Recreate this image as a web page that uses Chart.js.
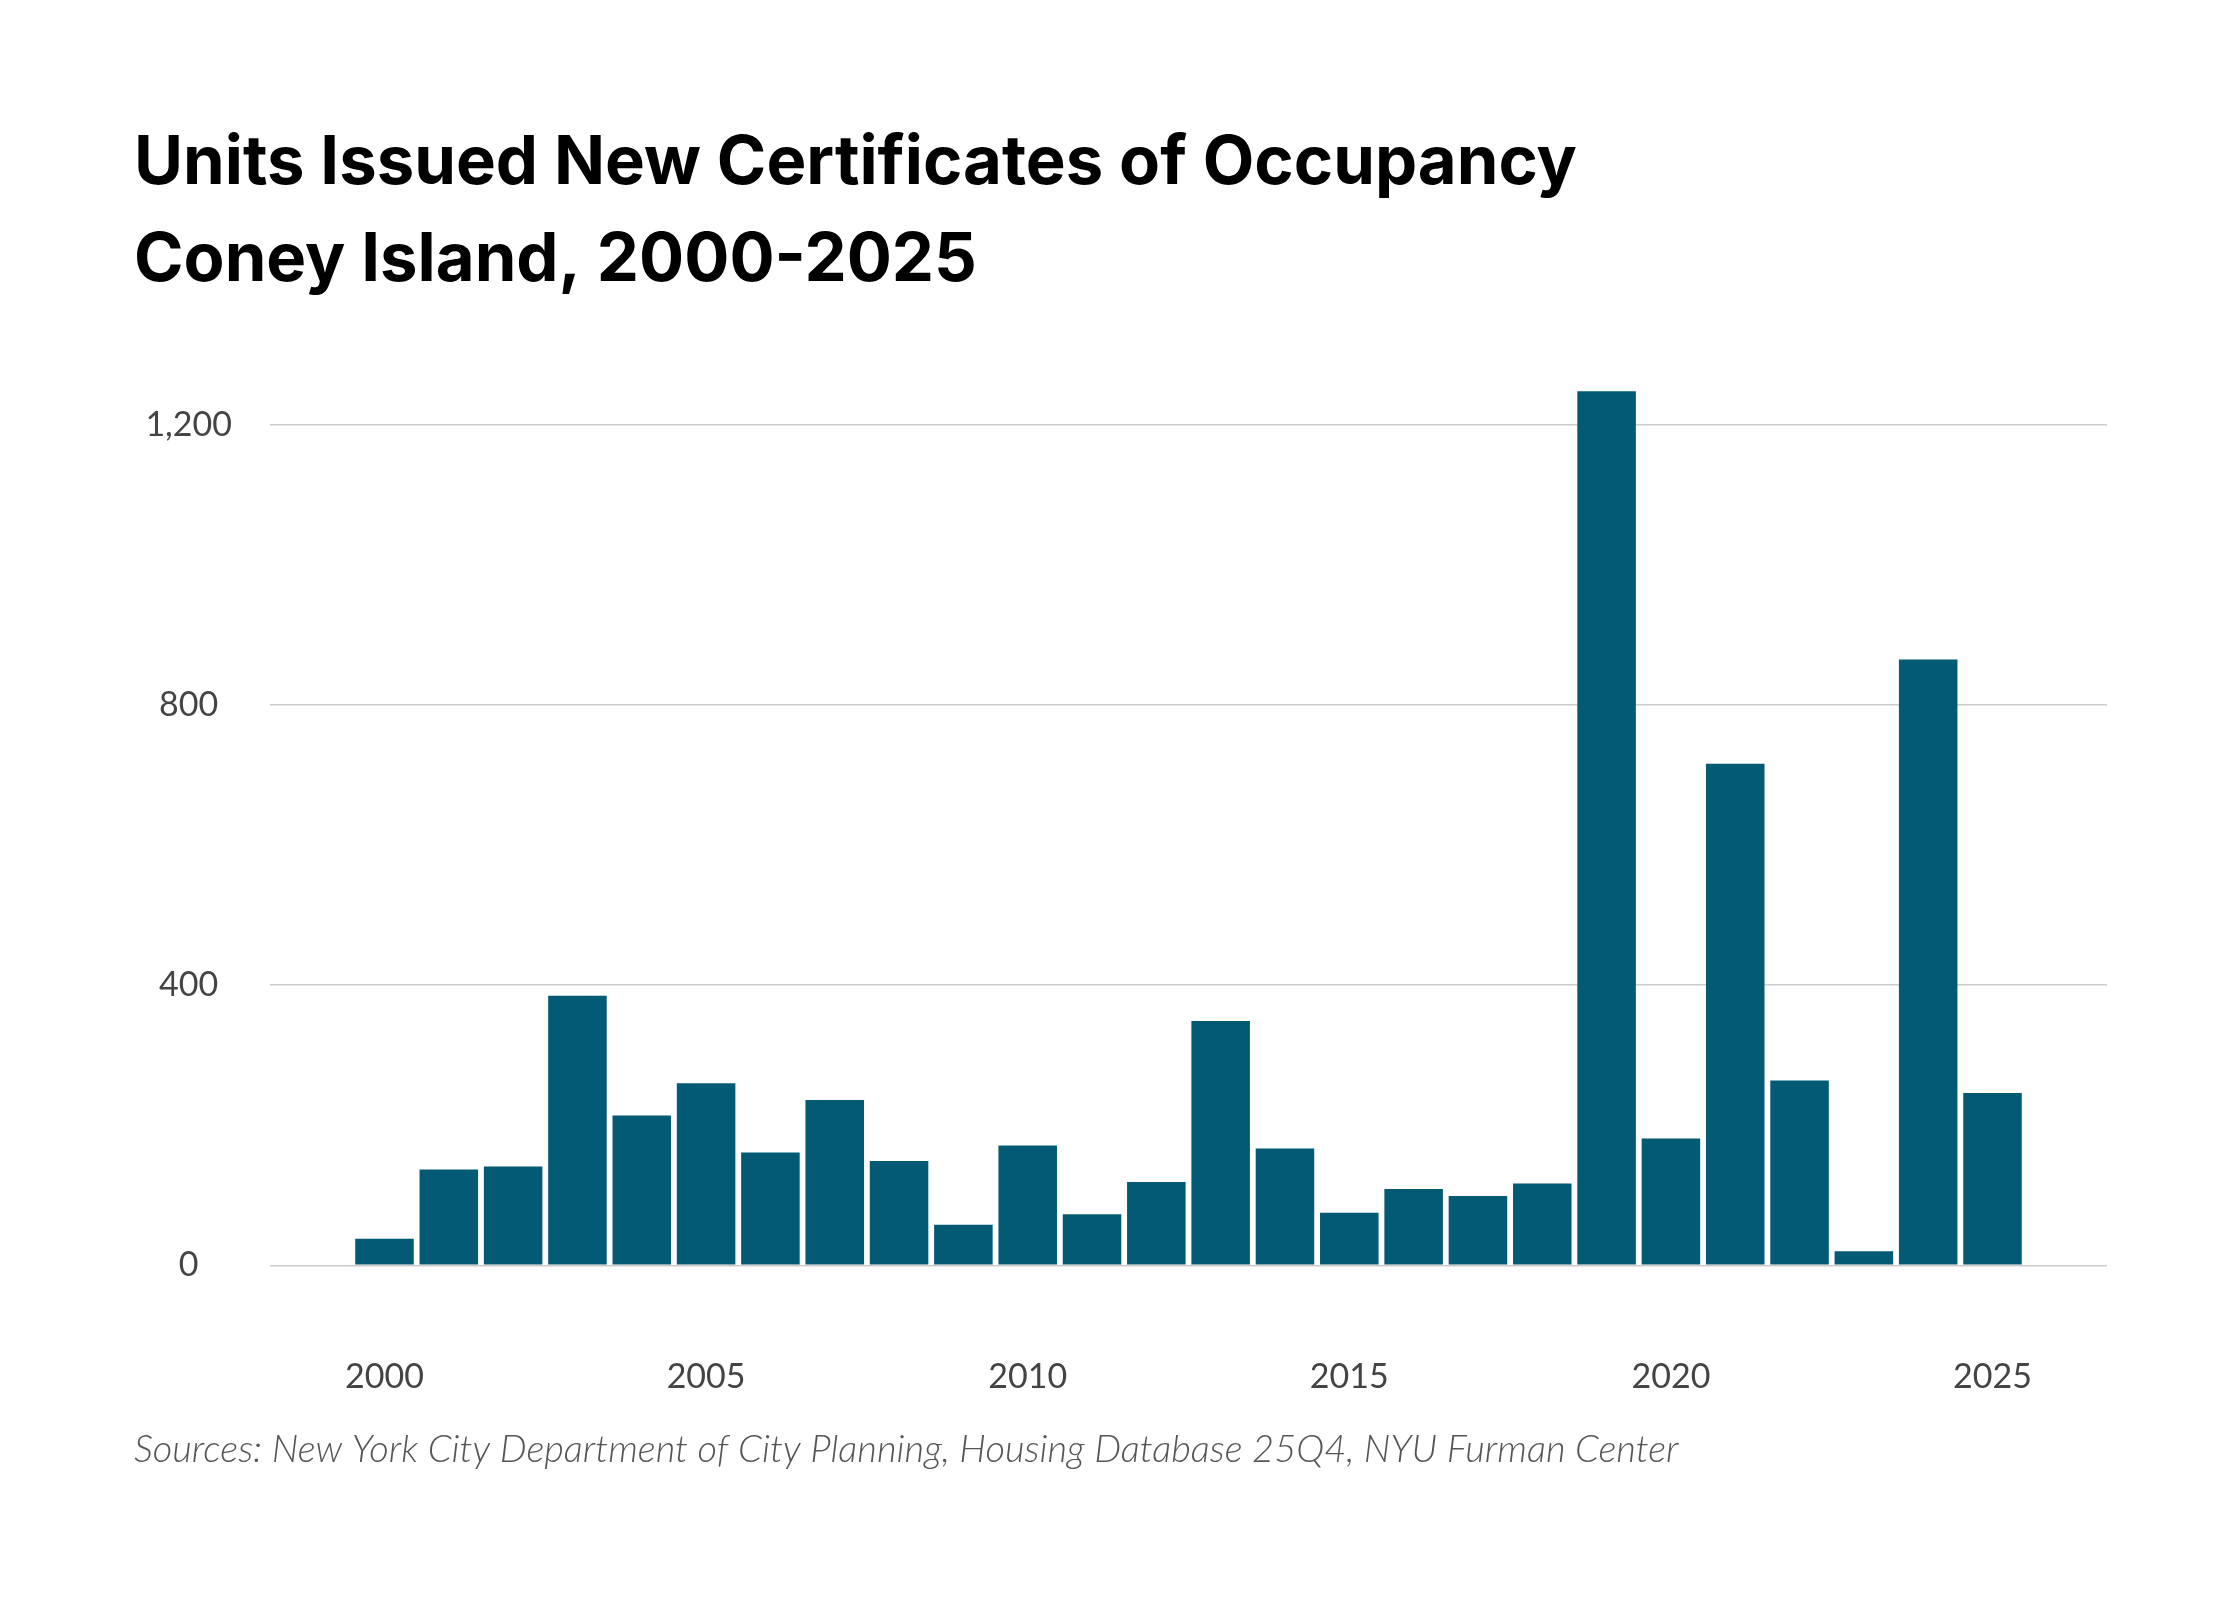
<!DOCTYPE html>
<html>
<head>
<meta charset="utf-8">
<script src="https://cdn.jsdelivr.net/npm/chart.js@4/dist/chart.umd.min.js"></script>
<style>
  html, body { margin: 0; padding: 0; background: #fff; }
  #wrap { width: 2240px; height: 1600px; }
</style>
</head>
<body>
<div id="wrap"><canvas id="chart" width="2240" height="1600"></canvas></div>
<script>
// Units issued new certificates of occupancy, Coney Island
const years = [2000, 2001, 2002, 2003, 2004, 2005, 2006, 2007, 2008, 2009, 2010, 2011, 2012,
    2013, 2014, 2015, 2016, 2017, 2018, 2019, 2020, 2021, 2022, 2023, 2024, 2025];
const units = [38, 137, 141, 385, 214, 260, 161, 236, 149, 58, 171, 73, 119,
    349, 167, 75, 109, 99, 117, 1248, 181, 716, 264, 20, 865, 246];
const yTicks = [0, 400, 800, 1200];
const xTicks = [2000, 2005, 2010, 2015, 2020, 2025];

const titleLines = ['Units Issued New Certificates of Occupancy', 'Coney Island, 2000-2025'];
const sourceText = 'Sources: New York City Department of City Planning, Housing Database 25Q4, NYU Furman Center';

const ctx = document.getElementById('chart').getContext('2d');
new Chart(ctx, {
    type: 'bar',
    data: {
        datasets: [{
            data: years.map((y, i) => ({ x: y, y: units[i] })),
            backgroundColor: '#025a74',
            barPercentage: 0.91,
            categoryPercentage: 1
        }]
    },
    options: {
        responsive: false,
        animation: false,
        layout: { padding: { left: 134, right: 133, top: 115, bottom: 127 } },
        plugins: {
            legend: { display: false },
            tooltip: { enabled: false },
            title: {
                display: true,
                text: titleLines,
                align: 'start',
                color: '#000',
                font: { family: 'Inter, "Noto Sans", sans-serif', size: 67, weight: 'bold', lineHeight: 1.45 },
                padding: { top: 0, bottom: 70 }
            },
            subtitle: {
                display: true,
                position: 'bottom',
                text: sourceText,
                align: 'start',
                color: '#555',
                font: { family: 'Lato, "Open Sans", sans-serif', size: 38, style: 'italic', weight: 300 },
                padding: { top: 0, bottom: 0 }
            }
        },
        scales: {
            x: {
                type: 'linear',
                offset: false,
                min: 1998.22,
                max: 2026.78,
                grid: { display: false, offset: false },
                border: { display: false },
                afterBuildTicks: (axis) => { axis.ticks = xTicks.map(v => ({ value: v })); },
                ticks: {
                    color: '#444',
                    padding: 30,
                    font: { family: 'Lato, sans-serif', size: 34 },
                    callback: (v) => String(v)
                }
            },
            y: {
                min: -76,
                max: 1265,
                grid: { color: '#cccccc', lineWidth: 1.5, drawTicks: false },
                border: { display: false },
                afterBuildTicks: (axis) => { axis.ticks = yTicks.map(v => ({ value: v })); },
                afterFit: (axis) => { axis.width = 136; },
                ticks: {
                    color: '#444',
                    padding: 38,
                    crossAlign: 'center',
                    font: { family: 'Lato, sans-serif', size: 34 },
                    callback: (v) => v.toLocaleString('en-US')
                }
            }
        }
    }
});
</script>
</body>
</html>
